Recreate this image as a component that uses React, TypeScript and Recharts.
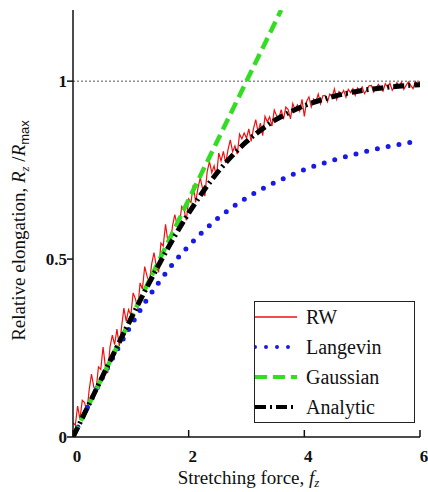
import React from 'react';
import { LineChart, Line, XAxis, YAxis, ReferenceLine, Legend } from 'recharts';

const rwF = [
  0.00,0.04,0.08,0.12,0.16,0.20,0.24,0.28,0.32,0.36,0.40,0.44,0.48,0.52,0.56,0.60,0.64,0.68,0.72,0.76,0.80,0.84,0.88,0.92,0.96,
  1.00,1.04,1.08,1.12,1.16,1.20,1.24,1.28,1.32,1.36,1.40,1.44,1.48,1.52,1.56,1.60,1.64,1.68,1.72,1.76,1.80,1.84,1.88,1.92,1.96,
  2.00,2.04,2.08,2.12,2.16,2.20,2.24,2.28,2.32,2.36,2.40,2.44,2.48,2.52,2.56,2.60,2.64,2.68,2.72,2.76,2.80,2.84,2.88,2.92,2.96,
  3.00,3.04,3.08,3.12,3.16,3.20,3.24,3.28,3.32,3.36,3.40,3.44,3.48,3.52,3.56,3.60,3.64,3.68,3.72,3.76,3.80,3.84,3.88,3.92,3.96,
  4.00,4.04,4.08,4.12,4.16,4.20,4.24,4.28,4.32,4.36,4.40,4.44,4.48,4.52,4.56,4.60,4.64,4.68,4.72,4.76,4.80,4.84,4.88,4.92,4.96,
  5.00,5.04,5.08,5.12,5.16,5.20,5.24,5.28,5.32,5.36,5.40,5.44,5.48,5.52,5.56,5.60,5.64,5.68,5.72,5.76,5.80,5.84,5.88,5.92,5.96,6.00,
];
const rwValues = [
  0.040,0.033,0.087,0.050,0.103,0.097,0.070,0.133,0.177,0.140,0.133,0.197,0.190,0.253,0.197,0.180,0.253,0.286,0.260,0.303,0.256,0.309,0.362,0.325,0.358,
  0.342,0.405,0.388,0.360,0.433,0.416,0.479,0.452,0.434,0.486,0.518,0.481,0.463,0.545,0.537,0.598,0.550,0.532,0.593,0.625,0.596,0.597,0.648,0.638,0.609,
  0.669,0.659,0.709,0.659,0.699,0.728,0.698,0.677,0.746,0.774,0.743,0.762,0.730,0.798,0.776,0.803,0.770,0.807,0.835,0.802,0.818,0.795,0.851,0.838,0.854,
  0.840,0.866,0.831,0.866,0.892,0.857,0.882,0.847,0.901,0.886,0.900,0.874,0.919,0.903,0.896,0.920,0.893,0.927,0.920,0.894,0.937,0.920,0.933,0.916,0.949,
  0.901,0.944,0.956,0.928,0.950,0.942,0.964,0.937,0.959,0.960,0.942,0.964,0.956,0.978,0.949,0.971,0.962,0.974,0.955,0.977,0.968,0.979,0.960,0.981,0.973,
  0.984,0.965,0.976,0.987,0.988,0.969,0.980,0.991,0.981,0.972,0.993,0.983,0.994,0.974,0.985,0.996,0.986,0.997,0.977,0.988,0.998,0.988,0.979,0.999,0.990,1.000,
];

const langF = [0,0.25,0.5,0.75,1,1.25,1.5,1.75,2,2.25,2.5,2.75,3,3.25,3.5,3.75,4,4.5,5,5.5,6];
const langValues = [0,0.083,0.164,0.241,0.313,0.379,0.438,0.491,0.537,0.578,0.614,0.645,0.672,0.695,0.716,0.734,0.751,0.778,0.800,0.818,0.833];

const gaussF = [0,1,2,3,3.6];
const gaussValues = [0,0.333,0.667,1.0,1.2];

const anaF = [0,0.25,0.5,0.75,1,1.25,1.5,1.75,2,2.25,2.5,2.75,3,3.25,3.5,3.75,4,4.5,5,5.5,6];
const anaValues = [0,0.083,0.167,0.250,0.332,0.412,0.489,0.562,0.629,0.690,0.744,0.790,0.830,0.863,0.891,0.913,0.931,0.957,0.974,0.984,0.990];

const xTicks = [0,2,4,6];
const yTicks = [0,0.5,1];

const seriesNames = ['RW','Langevin','Gaussian','Analytic'];

const rwData = rwF.map((f,i)=>({f, v: rwValues[i]}));
const langData = langF.map((f,i)=>({f, v: langValues[i]}));
const gaussData = gaussF.map((f,i)=>({f, v: gaussValues[i]}));
const anaData = anaF.map((f,i)=>({f, v: anaValues[i]}));

const SERIF = "'Liberation Serif', Tinos, 'Times New Roman', 'DejaVu Serif', 'Noto Serif', serif";

const styles = [
  { stroke: '#ee1111', strokeWidth: 1.2, dash: undefined as string|undefined, cap: 'butt' as const },
  { stroke: '#1a1ae6', strokeWidth: 5, dash: '0 11', cap: 'round' as const },
  { stroke: '#33dd22', strokeWidth: 4.5, dash: '12 6', cap: 'butt' as const },
  { stroke: '#000000', strokeWidth: 5, dash: '11 4 2 4', cap: 'butt' as const },
];

const LegendBox = () => (
  <div style={{ width: 161, height: 122, border: '1.5px solid #222', background: '#fff', boxSizing: 'border-box' }}>
    {seriesNames.map((n, i) => (
      <div key={n} style={{ height: 30, display: 'flex', alignItems: 'center' }}>
        <svg width={44} height={10} style={{ flex: 'none' }}>
          <line x1={0} y1={5} x2={42} y2={5} stroke={styles[i].stroke} strokeWidth={i === 0 ? 1.5 : 4} strokeDasharray={styles[i].dash} strokeLinecap={styles[i].cap} />
        </svg>
        <span style={{ fontFamily: SERIF, fontSize: 20, marginLeft: 7, color: '#111', lineHeight: '20px' }}>{n}</span>
      </div>
    ))}
  </div>
);

const YLabel = (props: any) => {
  const vb = props.viewBox || { x: 0, y: 10, width: 73, height: 427 };
  const cx = 25;
  const cy = vb.y + vb.height / 2 + 7;
  return (
    <text x={cx} y={cy} transform={`rotate(-90, ${cx}, ${cy})`} textAnchor="middle" fontFamily={SERIF} fontSize={19} fill="#111">
      Relative elongation, <tspan fontStyle="italic">R</tspan>
      <tspan fontSize={13} fontStyle="italic" dy={4}>z</tspan>
      <tspan dy={-4}> /</tspan>
      <tspan fontStyle="italic">R</tspan>
      <tspan fontSize={13} fontFamily="'Liberation Sans', Arimo, Arial, sans-serif" dy={4}>max</tspan>
    </text>
  );
};

const XLabel = (props: any) => {
  const vb = props.viewBox || { x: 73, y: 437, width: 347, height: 55 };
  const cx = vb.x + vb.width / 2 + 2;
  return (
    <text x={cx} y={484} textAnchor="middle" fontFamily={SERIF} fontSize={19} fill="#111">
      Stretching force, <tspan fontStyle="italic">f</tspan>
      <tspan fontSize={13} fontStyle="italic" dy={3}>z</tspan>
    </text>
  );
};

export default function App() {
  return (
    <div style={{ position: 'absolute', left: 0, top: 0, width: 428, height: 492, background: '#fff', fontFamily: SERIF }}>
      <LineChart width={428} height={492} margin={{ top: 10, right: 8, bottom: 0, left: 0 }} style={{ fontFamily: SERIF }}>
        <XAxis
          xAxisId="b" dataKey="f" type="number" domain={[0, 6]} ticks={xTicks}
          orientation="bottom" height={55} allowDataOverflow
          axisLine={{ stroke: '#111', strokeWidth: 1.5 }}
          tickLine={{ stroke: '#111', strokeWidth: 1.5 }}
          tickSize={-7} tickMargin={20}
          tick={{ fontFamily: SERIF, fontSize: 17, fontWeight: 700, fill: '#111', dx: 4 }}
          label={<XLabel />}
        />
        <XAxis
          xAxisId="t" dataKey="f" type="number" domain={[0, 6]} ticks={xTicks}
          orientation="top" height={0} mirror tick={false} tickSize={7}
          axisLine={{ stroke: '#111', strokeWidth: 1.5 }}
          tickLine={{ stroke: '#111', strokeWidth: 1.5 }}
        />
        <YAxis
          yAxisId="l" type="number" domain={[0, 1.2]} ticks={yTicks} width={73}
          allowDataOverflow
          axisLine={{ stroke: '#111', strokeWidth: 1.5 }}
          tickLine={{ stroke: '#111', strokeWidth: 1.5 }}
          tickSize={6} tickMargin={0}
          tickFormatter={(v: number) => String(v)}
          tick={{ fontFamily: SERIF, fontSize: 17, fontWeight: 700, fill: '#111' }}
          label={<YLabel />}
        />
        <YAxis
          yAxisId="r" type="number" domain={[0, 1.2]} ticks={[0.5, 1]} orientation="right"
          width={0} mirror tick={false} tickSize={7}
          axisLine={{ stroke: '#111', strokeWidth: 1.5 }}
          tickLine={{ stroke: '#111', strokeWidth: 1.5 }}
        />
        <ReferenceLine xAxisId="b" yAxisId="l" y={1} stroke="#555" strokeWidth={1} strokeDasharray="2 2" />
        <Line xAxisId="b" yAxisId="l" data={rwData} dataKey="v" name="RW" type="linear" dot={false} activeDot={false}
          stroke={styles[0].stroke} strokeWidth={styles[0].strokeWidth} isAnimationActive={false} />
        <Line xAxisId="b" yAxisId="l" data={langData} dataKey="v" name="Langevin" type="monotone" dot={false} activeDot={false}
          stroke={styles[1].stroke} strokeWidth={styles[1].strokeWidth} strokeDasharray={styles[1].dash} strokeLinecap="round" isAnimationActive={false} />
        <Line xAxisId="b" yAxisId="l" data={gaussData} dataKey="v" name="Gaussian" type="linear" dot={false} activeDot={false}
          stroke={styles[2].stroke} strokeWidth={styles[2].strokeWidth} strokeDasharray={styles[2].dash} isAnimationActive={false} />
        <Line xAxisId="b" yAxisId="l" data={anaData} dataKey="v" name="Analytic" type="monotone" dot={false} activeDot={false}
          stroke={styles[3].stroke} strokeWidth={styles[3].strokeWidth} strokeDasharray={styles[3].dash} isAnimationActive={false} />
        <Legend layout="horizontal" verticalAlign="middle" align="center"
          wrapperStyle={{ left: 254, top: 301, width: 161, height: 122 }}
          content={() => <LegendBox />} />
      </LineChart>
    </div>
  );
}
